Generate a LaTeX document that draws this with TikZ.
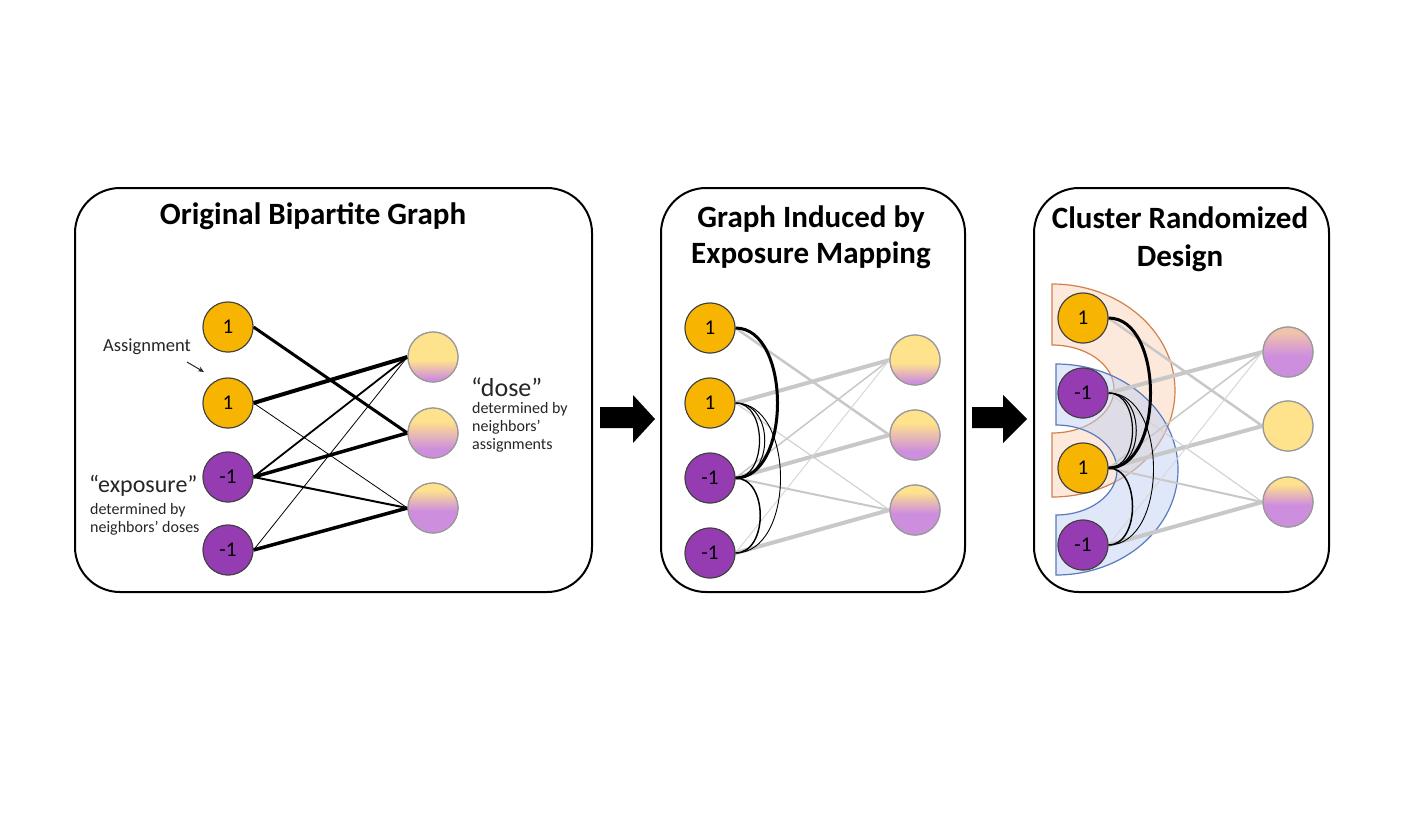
\documentclass[tikz,border=0pt]{standalone}
\usepackage{fontspec}
\setmainfont{Carlito}
\usetikzlibrary{arrows.meta}
\definecolor{dyel}{RGB}{255,226,140}
\definecolor{dpur}{RGB}{206,142,222}
\definecolor{dpeach}{RGB}{240,196,170}
\definecolor{ora}{RGB}{247,180,0}
\definecolor{pur}{RGB}{150,60,178}
\definecolor{txt}{RGB}{38,38,38}
\definecolor{eg}{RGB}{200,200,200}
\definecolor{clo}{RGB}{212,128,74}
\definecolor{clof}{RGB}{250,212,186}
\definecolor{clb}{RGB}{88,122,190}
\definecolor{clbf}{RGB}{192,208,242}
\pgfdeclareverticalshading{doseA}{100bp}{color(0bp)=(dpur); color(28bp)=(dpur); color(47bp)=(dyel); color(100bp)=(dyel)}
\pgfdeclareverticalshading{doseB}{100bp}{color(0bp)=(dpur); color(34bp)=(dpur); color(62bp)=(dyel); color(100bp)=(dyel)}
\pgfdeclareverticalshading{doseC}{100bp}{color(0bp)=(dpur); color(47bp)=(dpur); color(68bp)=(dyel); color(100bp)=(dyel)}
\pgfdeclareverticalshading{doseD}{100bp}{color(0bp)=(dpur); color(46bp)=(dpur); color(70bp)=(dpeach); color(100bp)=(dpeach)}
\tikzset{
  panel/.style={draw, line width=2pt, rounded corners=45pt, inner sep=0pt},
  tnode/.style={circle, minimum size=50pt, inner sep=0pt, draw=black!75, line width=1pt,
    text=black, font=\fontsize{21}{25}\selectfont},
  one/.style={tnode, fill=ora},
  neg/.style={tnode, fill=pur},
  dose/.style={circle, minimum size=50pt, inner sep=0pt, draw=black!40, line width=1.2pt},
  title/.style={font=\fontsize{31}{36}\selectfont\bfseries, align=center, text=black},
  big/.style={font=\fontsize{24}{28}\selectfont, text=txt, anchor=west, inner sep=0pt},
  small/.style={font=\fontsize{16}{19}\selectfont, text=txt, anchor=west, inner sep=0pt},
  ea/.style={line width=#1pt, black},
  ga/.style={line width=#1pt, eg},
  arcb/.style={line width=#1pt, black},
  blockarrow/.style={fill=black},
}
\begin{document}
\begin{tikzpicture}[x=1pt,y=-1pt]
\useasboundingbox (0,0) rectangle (1404,812);
\fill[white] (0,0) rectangle (1404,812);

% panels
\node[panel, minimum width=517pt, minimum height=404pt] (p1) at (333.5,390) {};
\node[panel, minimum width=304pt, minimum height=404pt] (p2) at (813,390) {};
\node[panel, minimum width=295pt, minimum height=404pt] (p3) at (1181.5,390) {};

% titles
\node[title] (t1) at (313,216) {Original Bipartite Graph};
\node[title] (t2) at (811,237) {Graph Induced by\\Exposure Mapping};
\node[title, font=\fontsize{31}{38}\selectfont\bfseries] (t3) at (1180,239) {Cluster Randomized\\Design};

% block arrows
\fill[blockarrow] (600,407) -- (633,407) -- (633,395) -- (655,419) -- (633,443) -- (633,428) -- (600,428) -- cycle;
\fill[blockarrow] (972,407) -- (1003,407) -- (1003,395) -- (1027,419) -- (1003,443) -- (1003,428) -- (972,428) -- cycle;

% ---------- panel 1 ----------
\node[one] (a1) at (228,327) {1};
\node[one] (a2) at (228,403) {1};
\node[neg] (a3) at (228,477) {-1};
\node[neg] (a4) at (228,550) {-1};
\node[dose, shading=doseA] (b1) at (433,357) {};
\node[dose, shading=doseB] (b2) at (433,433) {};
\node[dose, shading=doseC] (b3) at (433,508) {};
\draw[ea=3] (a1.east) -- (b2.west);
\draw[ea=4] (a2.east) -- (b1.west);
\draw[ea=0.8] (a2.east) -- (b3.west);
\draw[ea=1.8] (a3.east) -- (b1.west);
\draw[ea=3.5] (a3.east) -- (b2.west);
\draw[ea=2] (a3.east) -- (b3.west);
\draw[ea=0.8] (a4.east) -- (b1.west);
\draw[ea=3.5] (a4.east) -- (b3.west);

\node[font=\fontsize{18.5}{22}\selectfont, text=txt] (lab1) at (147,347) {Assignment};
\coordinate (aa1) at (187,362);
\coordinate (aa2) at (204,372);
\draw[line width=1pt, txt, -{Stealth[length=6pt,width=5pt]}] (aa1) -- (aa2);
\node[big] (ex1) at (89,486) {“exposure”};
\node[small] (ex2) at (90,510) {determined by};
\node[small] (ex3) at (90,528) {neighbors’ doses};
\node[big, font=\fontsize{26}{30}\selectfont] (do1) at (471,387) {“dose”};
\node[small] (do2) at (472,409) {determined by};
\node[small] (do3) at (472,427) {neighbors’};
\node[small] (do4) at (472,445) {assignments};

% ---------- panel 2 ----------
\node[one] (c1) at (710,328) {1};
\node[one] (c2) at (710,403) {1};
\node[neg] (c3) at (710,478) {-1};
\node[neg] (c4) at (710,553) {-1};
\node[dose, shading=doseA] (e1) at (915,360) {};
\node[dose, shading=doseB] (e2) at (915,435) {};
\node[dose, shading=doseC] (e3) at (915,510) {};
\draw[ga=2.5] (c1.east) -- (e2.west);
\draw[ga=4] (c2.east) -- (e1.west);
\draw[ga=1.2, eg!80] (c2.east) -- (e3.west);
\draw[ga=1.5] (c3.east) -- (e1.west);
\draw[ga=4] (c3.east) -- (e2.west);
\draw[ga=2] (c3.east) -- (e3.west);
\draw[ga=1, eg!70] (c4.east) -- (e1.west);
\draw[ga=4] (c4.east) -- (e3.west);
\draw[arcb=3] (c1.east) .. controls +(56,0) and +(56,0) .. (c3.east);
\draw[arcb=1.2] (c2.east) .. controls +(32,0) and +(32,0) .. (c3.east);
\draw[arcb=1] (c2.east) .. controls +(39,0) and +(39,0) .. (c3.east);
\draw[arcb=0.9] (c2.east) .. controls +(60,0) and +(60,0) .. (c4.east);
\draw[arcb=1.5] (c3.east) .. controls +(33,0) and +(33,0) .. (c4.east);

% ---------- panel 3 ----------
\filldraw[draw=clo, fill=clof, fill opacity=0.5, line width=1.2pt]
  (1052,284) arc[start angle=90, end angle=-90, x radius=123pt, y radius=106.5pt]
  -- (1052,433) arc[start angle=-90, end angle=90, x radius=62pt, y radius=44pt] -- cycle;
\filldraw[draw=clb, fill=clbf, fill opacity=0.5, line width=1.2pt]
  (1056,364) arc[start angle=90, end angle=-90, x radius=122pt, y radius=105.5pt]
  -- (1056,515) arc[start angle=-90, end angle=90, x radius=61pt, y radius=45pt] -- cycle;

\node[one] (d1) at (1083,318) {1};
\node[neg] (d2) at (1083,393) {-1};
\node[one] (d3) at (1083,468) {1};
\node[neg] (d4) at (1083,545) {-1};
\node[dose, shading=doseD] (f1) at (1288,352) {};
\node[dose, fill=dyel] (f2) at (1288,426) {};
\node[dose, shading=doseC] (f3) at (1288,502) {};
\draw[ga=2.5] (d1.east) -- (f2.west);
\draw[ga=4] (d2.east) -- (f1.west);
\draw[ga=1.2, eg!80] (d2.east) -- (f3.west);
\draw[ga=1.5] (d3.east) -- (f1.west);
\draw[ga=4] (d3.east) -- (f2.west);
\draw[ga=2] (d3.east) -- (f3.west);
\draw[ga=1, eg!70] (d4.east) -- (f1.west);
\draw[ga=4] (d4.east) -- (f3.west);
\draw[arcb=3] (d1.east) .. controls +(56,0) and +(56,0) .. (d3.east);
\draw[arcb=1.2] (d2.east) .. controls +(32,0) and +(32,0) .. (d3.east);
\draw[arcb=1] (d2.east) .. controls +(37,0) and +(37,0) .. (d3.east);
\draw[arcb=0.9] (d2.east) .. controls +(60,0) and +(60,0) .. (d4.east);
\draw[arcb=1.5] (d3.east) .. controls +(32,0) and +(32,0) .. (d4.east);
% redraw nodes on top of the connectors
\node[one] at (d1) {1};
\node[neg] at (d2) {-1};
\node[one] at (d3) {1};
\node[neg] at (d4) {-1};
\node[dose, shading=doseD] at (f1) {};
\node[dose, fill=dyel] at (f2) {};
\node[dose, shading=doseC] at (f3) {};
\node[one] at (c1) {1};
\node[one] at (c2) {1};
\node[neg] at (c3) {-1};
\node[neg] at (c4) {-1};
\node[dose, shading=doseA] at (e1) {};
\node[dose, shading=doseB] at (e2) {};
\node[dose, shading=doseC] at (e3) {};
\node[one] at (a1) {1};
\node[one] at (a2) {1};
\node[neg] at (a3) {-1};
\node[neg] at (a4) {-1};
\node[dose, shading=doseA] at (b1) {};
\node[dose, shading=doseB] at (b2) {};
\node[dose, shading=doseC] at (b3) {};
\end{tikzpicture}
\end{document}
